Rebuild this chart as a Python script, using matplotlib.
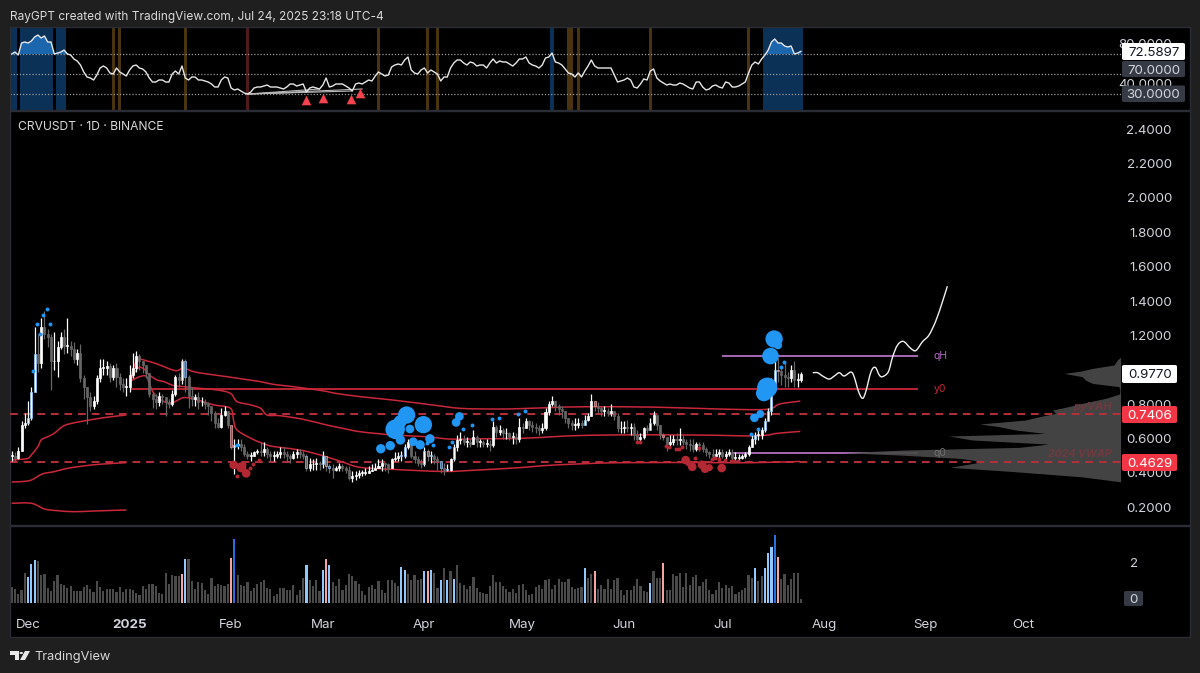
import matplotlib
matplotlib.use('Agg')
import matplotlib.pyplot as plt
from matplotlib.patches import FancyBboxPatch, Polygon, Circle, PathPatch
from matplotlib.path import Path
import numpy as np

plt.rcParams['font.family'] = ['Inter', 'DejaVu Sans']

closes = [.50,.49,.53,.68,.69,.72,.87,1.09,1.04,1.25,1.21,1.19,1.05,1.05,1.13,1.19,1.14,1.14,1.12,1.06,
          1.10,.95,.90,.84,.79,.82,.95,1.01,1.01,1.02,.96,1.01,.96,.92,.90,.90,.97,1.01,1.08,1.05,
          1.03,.98,.86,.83,.81,.85,.84,.81,.80,.86,.96,.94,1.05,.96,.85,.83,.84,.81,.81,.80,
          .79,.75,.69,.67,.74,.76,.68,.55,.56,.57,.55,.51,.50,.50,.52,.53,
          .52,.54,.51,.50,.50,.51,.52,.51,.50,.49,.51,.52,.51,.50,.43,.45,.45,.46,.45,.50,
          .44,.43,.42,.43,.44,.43,.42,.37,.38,.39,.40,.40,.40,.41,.42,.43,.44,.46,.45,.43,
          .48,.49,.50,.50,.55,.58,.50,.48,.46,.45,.53,.50,.50,.48,.47,.43,.42,.42,.48,.55,
          .59,.60,.58,.58,.57,.61,.58,.58,.57,.57,.56,.67,.64,.65,.63,.63,.61,.61,.60,.67,
          .66,.70,.68,.67,.66,.65,.66,.755,.80,.82,.79,.77,.76,.72,.69,.68,.68,.69,.68,.71,
          .73,.82,.79,.78,.76,.76,.75,.76,.73,.66,.66,.67,.66,.67,.62,.60,.61,.66,.65,.69,
          .74,.68,.62,.61,.57,.58,.60,.59,.60,.58,.57,.56,.54,.57,.56,.54,.52,.51,.50,.51,
          .52,.50,.51,.52,.49,.49,.49,.50,.51,.55,.60,.62,.62,.65,.70,.76,.92,1.00,.995,.97,
          .96,.95,1.00,.94,.94,.977]
highs = [.53,.52,.55,.70,.75,.82,.90,1.25,1.21,1.30,1.34,1.24,1.21,1.22,1.17,1.22,1.24,1.30,1.17,1.16,
         1.12,1.15,.97,.90,.87,.85,.97,1.06,1.06,1.05,1.04,1.03,1.04,.98,.95,.95,1.03,1.10,1.11,1.09,
         1.05,1.02,.98,.87,.86,.87,.86,.84,.83,.88,.97,.98,1.06,1.06,.97,.90,.86,.87,.84,.83,
         .81,.78,.76,.72,.78,.79,.76,.68,.60,.60,.60,.57,.53,.52,.53,.54,
         .58,.58,.55,.53,.53,.53,.55,.55,.53,.51,.53,.54,.54,.53,.51,.49,.48,.49,.47,.53,
         .50,.45,.45,.44,.46,.45,.44,.44,.41,.41,.42,.42,.43,.44,.45,.46,.48,.48,.46,.46,
         .49,.52,.52,.53,.57,.60,.60,.53,.50,.48,.55,.54,.53,.51,.50,.47,.46,.45,.49,.57,
         .62,.64,.62,.61,.60,.65,.62,.60,.59,.60,.59,.70,.68,.68,.66,.66,.64,.64,.63,.72,
         .69,.72,.71,.70,.69,.68,.69,.78,.82,.85,.82,.80,.79,.76,.72,.71,.72,.72,.71,.74,
         .75,.86,.82,.81,.79,.79,.78,.80,.76,.75,.70,.70,.71,.69,.69,.65,.63,.67,.68,.72,
         .76,.72,.68,.63,.61,.62,.62,.63,.66,.62,.60,.60,.60,.58,.58,.58,.55,.53,.54,.54,
         .54,.54,.53,.54,.54,.52,.51,.51,.52,.56,.62,.64,.65,.67,.72,.78,.95,1.05,1.07,1.01,
         1.04,.99,1.03,1.05,.98,.99]
lows = [.47,.47,.48,.53,.66,.68,.71,.87,.99,1.01,1.18,1.13,.88,1.00,.96,1.12,1.09,1.10,1.08,1.04,
        1.03,.93,.83,.685,.76,.77,.80,.93,.97,.97,.93,.94,.90,.88,.87,.85,.87,.95,.99,1.00,
        .98,.95,.84,.78,.77,.79,.80,.73,.78,.79,.85,.90,.92,.87,.78,.79,.79,.77,.79,.77,
        .74,.70,.66,.66,.66,.73,.66,.54,.395,.54,.53,.50,.48,.47,.50,.51,
        .50,.50,.49,.47,.47,.49,.49,.49,.47,.46,.48,.49,.49,.48,.41,.41,.42,.42,.42,.43,
        .41,.40,.37,.41,.41,.41,.40,.36,.35,.36,.37,.38,.39,.40,.41,.43,.43,.41,.41,.40,
        .43,.47,.47,.47,.49,.54,.49,.46,.44,.43,.44,.47,.46,.45,.42,.40,.39,.41,.41,.47,
        .53,.57,.56,.55,.55,.57,.55,.55,.55,.55,.53,.55,.61,.62,.60,.60,.59,.57,.57,.58,
        .63,.66,.65,.64,.63,.62,.63,.65,.74,.79,.76,.74,.72,.69,.66,.65,.65,.66,.66,.68,
        .70,.73,.76,.75,.73,.73,.73,.73,.71,.64,.63,.63,.64,.62,.59,.58,.58,.60,.63,.66,
        .68,.65,.60,.59,.53,.55,.56,.56,.56,.56,.54,.53,.52,.53,.53,.52,.50,.49,.48,.49,
        .49,.49,.48,.50,.47,.47,.47,.48,.49,.50,.55,.57,.59,.60,.64,.70,.74,.90,.93,.91,
        .90,.90,.93,.90,.90,.93]
volume = [.78,.70,.46,.62,1.48,1.27,1.89,2.08,2.03,1.35,1.40,.73,.59,1.06,1.35,.94,.86,.75,.83,.57,
          .57,.57,.78,.89,.67,.54,1.06,.78,.57,.70,.70,.67,.54,.78,.54,.67,.70,.62,.49,.41,
          .83,.67,.91,.91,.83,.49,.46,1.46,.91,1.35,1.32,1.32,1.40,2.13,2.13,1.06,.67,1.02,.99,.65,
          .42,1.24,.83,.91,.86,.83,.91,2.20,3.14,1.35,.86,.81,1.02,.59,.73,.94,1.02,1.11,.75,.70,
          .34,.42,.75,.75,.62,.62,.86,.37,.62,1.24,1.84,1.14,.81,1.11,.57,1.59,2.13,1.84,1.02,.81,
          1.19,.65,.89,1.43,1.32,1.07,.91,.59,.41,.78,.86,.67,1.07,.65,.50,1.11,1.11,.98,.81,1.76,
          1.59,1.43,1.11,1.35,1.11,1.19,1.54,1.54,1.63,1.48,.75,1.11,1.72,1.11,1.58,1.19,1.84,.98,.86,.70,
          .81,1.27,.75,.54,.49,.46,.83,1.35,1.02,1.02,.83,.67,.52,.70,.49,.86,.94,.62,.41,.46,
          .78,.86,.67,1.11,1.19,.70,.86,1.19,1.02,1.02,1.19,.78,.70,.75,.76,1.72,1.24,1.43,1.58,.67,
          .89,.70,1.19,.70,1.11,1.24,.62,.41,.62,.65,.81,1.19,.81,.57,.54,.99,1.58,1.24,1.24,1.97,
          .63,.63,1.41,1.32,1.46,.78,1.45,.86,1.27,1.38,.81,1.02,1.19,.62,.46,.62,1.02,.75,.89,.73,
          .83,.42,.54,.62,.75,1.38,1.24,1.72,1.07,1.32,1.72,2.46,2.73,3.30,2.24,1.15,1.41,.89,1.19,1.48,
          1.48,.18]
rsi = [70,72,69,81,82,81,83,87,89,86,88,82,82,70,71,72,74,70,69,65,63,59,52,47,46,44,49,56,58,56,
       51,50,56,52,50,48,54,58,59,56,55,52,46,42,42,44,44,42,42,50,53,50,58,46,44,47,47,44,44,43,
       42,40,37,37,44,47,46,36,34,35,33,31,30,32,36,37,37,38,39,37,37,37,36,35,37,40,40,38,39,40,
       32,36,37,36,35,39,46,37,38,40,40,40,38,36,33,40,41,40,42,44,43,48,52,50,48,49,57,59,60,59,
       64,67,54,51,50,54,56,51,54,52,50,43,47,47,56,61,64,64,61,59,62,61,58,59,59,56,61,65,61,63,
       62,62,60,58,61,65,65,67,61,59,58,56,59,66,67,71,62,61,59,55,51,50,47,51,47,53,58,64,58,56,
       56,56,56,56,49,42,43,44,46,44,37,36,40,45,44,53,55,46,43,41,39,40,39,39,41,40,38,36,35,42,
       42,37,34,35,38,39,37,36,42,41,37,37,38,40,42,51,59,62,60,65,69,74,82,85,81,81,78,77,78,70,
       71,72.59]

# volume bar highlights
vol_light = [5,6,7,53,90,95,97,119,120,126,128,131,133,135,175,195,227,230,231,232]
vol_pink = [52,67,96,127,178,199,234]
vol_blue = [68,233]

# rsi background highlights, bar ranges
rsi_blue = [(0,1),(3,12),(14,16),(165,165),(230,241)]
rsi_orange = [(31,31),(33,33),(53,53),(112,112),(127,127),(130,130),(170,171),(173,173),(195,195),(225,225)]
rsi_red = [(72,72)]
tri_idx = [90,95,103.5,106.5]
tri_rsi = [24,26.3,25.3,31.3]
div_from = (72,30)
div_to = [(90,32),(94,35),(104,33),(107,35)]

vwap_a_idx = [0,3,5,6,8,9,11,13,15.5,17.5,21,25,29,35]
vwap_a = [.476,.480,.485,.505,.553,.592,.611,.631,.670,.685,.699,.712,.724,.737]
vwap_b_idx = [0,3,6,9.3,13,17,22,27,35]
vwap_b = [.348,.350,.359,.394,.408,.427,.441,.451,.460]
vwap_c_idx = [0,6,10,14,19,25,35]
vwap_c = [.224,.224,.191,.181,.175,.179,.185]
upper_idx = [36,37,38,39.3,41.4,44.4,48.5,50.5,52.5,55.6,59.6,65.7,71,76,80,86,95,99,106.4,116.5,128.7,137,147,155,165.4,175.5,196,216,230.4,234.5,240.8]
upper = [.931,.999,1.047,1.061,1.051,1.034,1.003,.995,1.009,.989,.976,.960,.945,.931,.915,.902,.878,.863,.844,.824,.795,.776,.772,.774,.781,.785,.783,.772,.770,.801,.818]
middle_idx = [36,38.5,40.4,42,44.4,46.5,49.5,52.5,57.6,62.7,66.8,68.8,73,76,78,82,89,96.2,101.3,106.4,116.5,126.7,134,143,155,165.4,175.5,196,216,226,231,233.5,240.8]
middle = [.931,1.009,1.005,.970,.941,.931,.908,.902,.892,.883,.863,.815,.796,.776,.737,.733,.712,.679,.659,.640,.621,.611,.597,.599,.601,.611,.619,.622,.619,.615,.621,.630,.642]
lower_idx = [36,38.5,41,42,43.4,45.4,48.5,52.5,56.6,61.7,66.8,67.8,68.8,73,76,79,82,89,96,101.3,106.4,116.5,131.8,142,155,165.4,185.7,216,226.3,240.8]
lower = [.931,.956,.964,.921,.863,.828,.805,.838,.825,.796,.776,.699,.650,.602,.577,.557,.549,.530,.495,.462,.433,.421,.409,.417,.431,.446,.460,.460,.460,.467]

blue_idx = [120.6,125.7,117.1,118.6,121.6,118.7,115.6,112.7,127.7,122.6,124.7,136.7,135.7,232.8,234,231.7,230.7,229.7,228.6,226.8]
blue_px = [.737,.681,.654,.698,.656,.592,.559,.541,.599,.582,.564,.729,.694,1.179,1.142,1.080,.896,.863,.743,.721]
blue_r = [24,24,27,18,12,13,13,13,13,12,13,12,12,24,11,23,28,22,11,12]
blue_dot_idx = [126.7,128.7,133.6,134.6,137.7,140.6,146.7,148.7,154.7,156.7,225.7,227.9,234.8,235.8,10.7,9.7,7.6,11.7,8.6,6.6,68.8]
blue_dot_px = [.572,.561,.553,.578,.654,.679,.712,.721,.745,.762,.624,.655,1.018,1.043,1.352,1.321,1.266,1.265,1.208,.991,.561]
red_idx = [67.8,70.1,71.6,70.8,205.8,206.8,207.8,210.8,211.7,213,216.8]
red_px = [.447,.433,.398,.447,.475,.456,.436,.448,.425,.431,.429]
red_r = [12,14,12,8,12,9,12,12,12,10,12]
red_dot_idx = [68.8,72.7,73.7,75.4,190.8,191.8,199.7,200.7,202.8,203.8,204.8,208.8,209.9,213.8,214.8,215.9,217.7,219.7,220.7,221.8]
red_dot_px = [.381,.431,.454,.476,.582,.582,.558,.553,.537,.537,.553,.485,.543,.481,.485,.479,.475,.469,.469,.469]

path_idx = [244.6,246.1,247.6,249.6,251.2,252.7,254.2,256.3,257.3,258.6,259.8,260.8,262.4,263.7,264.9,265.9,267.7,269,270.5,272.3,274.5,276.1,278.1,280.1,282.2,284.2,285.7]
path_px = [.983,.983,.964,.946,.964,.983,.964,.987,.956,.873,.834,.873,.989,1.014,.970,.960,.989,1.076,1.144,1.165,1.125,1.112,1.163,1.202,1.285,1.395,1.486]

profile_px = [1.072,1.057,1.028,1.008,.993,.979,.960,.940,.921,.902,.882,.859,.834,.805,.782,.766,.747,.727,.708,.685,.669,.650,.630,.615,.592,.568,.549,.533,.518,.504,.485,.466,.433,.408,.378,.349]
profile_w = [0,1,2,8.6,12,17.2,11.7,10.7,8.6,.5,.2,.3,4.6,11.7,16.8,20.8,19.8,24.9,29,43,37,32,23,52.4,45.3,22,31,67,85,67,49,42,52,32.5,12,0]

month_idx = [5,36,67,95,126,156,187,217,248,279,309]
month_labels = ['Dec','2025','Feb','Mar','Apr','May','Jun','Jul','Aug','Sep','Oct']
# 1.0000 sits behind the last price box
price_ticks = [.2,.4,.6,.8,1.2,1.4,1.6,1.8,2.0,2.2,2.4]

BG = '#1f1f1f'
BORDER = '#2a2d35'
W, H = 1200, 673
XMIN, XMAX = -0.52, 359.8
VP_RIGHT = 338.6


def panel(top, bottom):
    ax = fig.add_axes([10/W, 1-bottom/H, 1180/W, (bottom-top)/H], facecolor='black')
    for s in ax.spines.values():
        s.set_color(BORDER)
        s.set_linewidth(1)
    ax.set_xlim(XMIN, XMAX)
    ax.yaxis.tick_right()
    ax.tick_params(axis='y', length=0, pad=-13, labelsize=9.6, labelcolor='#d1d4dc')
    ax.set_xticks([])
    return ax


def yformat(ax, ticks):
    ax.set_yticks(ticks)
    ax.set_yticklabels(['%.4f' % t for t in ticks], ha='right')


def box(x0, y0, x1, y1, s, fc, tc):
    fig.patches.append(FancyBboxPatch((x0/W, 1-y1/H), (x1-x0)/W, (y1-y0)/H, boxstyle='round,pad=0,rounding_size=0.002',
                                      transform=fig.transFigure, fc=fc, ec='none', figure=fig, zorder=5))
    fig.text((x1-5)/W, 1-(y0+y1)/2/H, s, color=tc, fontsize=9.6, ha='right', va='center_baseline', zorder=6)


def smooth(ax, xs, ys, **kw):
    # catmull-rom through the read points, drawn as bezier segments
    p = np.column_stack([xs, ys])
    verts = [p[0]]
    codes = [Path.MOVETO]
    for i in range(len(p)-1):
        a = p[max(i-1, 0)]
        b = p[i]
        c = p[i+1]
        d = p[min(i+2, len(p)-1)]
        verts += [b+(c-a)/6, c-(d-b)/6, c]
        codes += [Path.CURVE4]*3
    ax.add_patch(PathPatch(Path(verts, codes), fc='none', **kw))


fig = plt.figure(figsize=(12, 6.73), dpi=100, facecolor=BG)
x = np.arange(len(closes))
opens = np.array([closes[0]] + closes[:-1])
closes_a = np.array(closes)

# rsi pane
ax_rsi = panel(27, 110)
ax_rsi.set_ylim(14, 97)
for spans, c in [(rsi_blue, '#0b3157'), (rsi_orange, '#4a340f'), (rsi_red, '#4f1a1d')]:
    for a, b in spans:
        ax_rsi.axvspan(a-0.5, b+0.5, color=c, lw=0, zorder=1)
ax_rsi.hlines([70, 50, 30], XMIN, VP_RIGHT, color='#9a9a9a', lw=0.9, linestyles=(0, (1, 1.5)), zorder=2)
r = np.array(rsi, dtype=float)
ax_rsi.fill_between(x, 70, r, where=r >= 70, color='#1c66ad', lw=0, interpolate=True, zorder=2)
for a, b in div_to:
    ax_rsi.plot([div_from[0], a], [div_from[1], b], color='#b8b8b8', lw=0.8, zorder=3)
ax_rsi.plot(x, r, color='#e6e6e6', lw=1.0, zorder=4)
ax_rsi.scatter(tri_idx, tri_rsi, marker='^', s=48, color='#f4434f', lw=0, zorder=5)
yformat(ax_rsi, [80, 40])

# price pane
ax = panel(111, 525)
ax.set_ylim(2.4-(525-129)/172, 2.4+(129-111)/172)
yformat(ax, price_ticks)

ax.fill_betweenx(profile_px, VP_RIGHT-np.array(profile_w), VP_RIGHT, color='#4a4a4a', lw=0, alpha=0.92, zorder=3)
ax.hlines([.7406, .4629], XMIN, VP_RIGHT, color='#b5303c', lw=1.4, linestyles=(0, (4, 3)), zorder=4)
ax.hlines(.89, 36, 276.7, color='#d92b3c', lw=1.2, zorder=2)
ax.hlines(1.08, 216.8, 276.7, color='#c47bd2', lw=1.2, zorder=2)
ax.hlines(.518, 220, 276.7, color='#c47bd2', lw=1.2, zorder=2)
for ix, v in [(vwap_a_idx, vwap_a), (vwap_b_idx, vwap_b), (vwap_c_idx, vwap_c), (upper_idx, upper), (middle_idx, middle), (lower_idx, lower)]:
    smooth(ax, ix, v, ec='#c8283a', lw=1.1, zorder=5)

up = closes_a >= opens
edge = ['#ffffff' if u else '#666666' for u in up]
body_edge = list(edge)
for i in vol_light + vol_blue:
    body_edge[i] = '#8cc4fa'
for i in vol_pink:
    body_edge[i] = '#f0a0a0'
ax.vlines(x, lows, highs, color=edge, lw=0.9, zorder=6)
ax.bar(x, np.maximum(np.abs(closes_a-opens), .004), bottom=np.minimum(closes_a, opens), width=0.62,
       color=edge, edgecolor=body_edge, lw=0.5, zorder=7)

ax.scatter(blue_idx, blue_px, s=(np.array(blue_r)*0.52)**2, color='#2196f3', lw=0, zorder=8)
ax.scatter(blue_dot_idx, blue_dot_px, s=8, color='#2196f3', lw=0, zorder=8)
ax.scatter(red_idx, red_px, s=(np.array(red_r)*0.52)**2, color='#b22833', lw=0, zorder=8)
ax.scatter(red_dot_idx, red_dot_px, s=8, color='#b22833', lw=0, zorder=8)
smooth(ax, path_idx, path_px, ec='#f0f0f0', lw=1.0, zorder=8)

ax.text(281.5, 1.08, 'qH', color='#b56cc4', fontsize=7.5, va='center', zorder=9)
ax.text(281.5, .89, 'y0', color='#c8283a', fontsize=7.5, va='center', zorder=9)
ax.text(281.5, .518, 'q0', color='#707070', fontsize=7.5, va='center', zorder=9)
ax.text(336, .782, 'pyVAH', color='#6e3a3f', fontsize=8, style='italic', fontweight='bold', ha='right', va='center', zorder=9)
ax.text(336, .508, '2024 VWAP', color='#6e3a3f', fontsize=7.6, style='italic', fontweight='bold', ha='right', va='center', zorder=9)

# volume pane
ax_v = panel(526, 637)
ax_v.set_ylim(-1.66, 3.76)
vcol = ['#4a4a4a'] * len(volume)
for i in vol_light:
    vcol[i] = '#90c8fb'
for i in vol_pink:
    vcol[i] = '#f5a3a3'
for i in vol_blue:
    vcol[i] = '#2a6fe0'
ax_v.bar(x, volume, width=0.66, color=vcol, lw=0)
ax_v.set_yticks([2])
ax_v.set_yticklabels(['2'], ha='right')
ax_v.tick_params(axis='y', pad=-37)
ax_v.set_xticks(month_idx)
ax_v.set_xticklabels(month_labels)
ax_v.tick_params(axis='x', length=0, pad=-13, labelsize=9.6, labelcolor='#d1d4dc')
ax_v.get_xticklabels()[1].set_fontweight('bold')

# price scale boxes
box(1122, 43, 1185, 60, '72.5897', '#ffffff', '#131722')
box(1122, 61, 1185, 77, '70.0000', '#363a45', '#d1d4dc')
box(1122, 85.5, 1185, 102, '30.0000', '#363a45', '#d1d4dc')
box(1122, 365, 1177, 383, '0.9770', '#ffffff', '#131722')
box(1122, 406, 1177, 423, '0.7406', '#f23645', '#ffffff')
box(1122, 454, 1177, 471, '0.4629', '#f23645', '#ffffff')
box(1124, 591, 1143, 606, '0', '#363a45', '#d1d4dc')

fig.text(10/W, 1-17/H, 'RayGPT created with TradingView.com, Jul 24, 2025 23:18 UTC-4', color='#d8d8d8', fontsize=8.55, va='center')
fig.text(18/W, 1-127/H, 'CRVUSDT · 1D · BINANCE', color='#d8d8d8', fontsize=8.7, va='center')
fig.text(34/W, 1-657/H, 'TradingView', color='#d8d8d8', fontsize=9.2, va='center')

# logo
logo = '#e8e8e8'
def px(pts):
    return [(a/W, 1-b/H) for a, b in pts]
fig.patches.append(Polygon(px([(10,651),(19,651),(19,660),(15,660),(15,655),(10,655)]), closed=True, transform=fig.transFigure, fc=logo, ec='none', figure=fig))
fig.patches.append(Circle((21.3/W, 1-653/H), 1.8/W, transform=fig.transFigure, fc=logo, ec='none', figure=fig))
fig.patches.append(Polygon(px([(25,651),(30,651),(25,660),(20,660)]), closed=True, transform=fig.transFigure, fc=logo, ec='none', figure=fig))

fig.savefig('out.png', dpi=100, facecolor=BG)
